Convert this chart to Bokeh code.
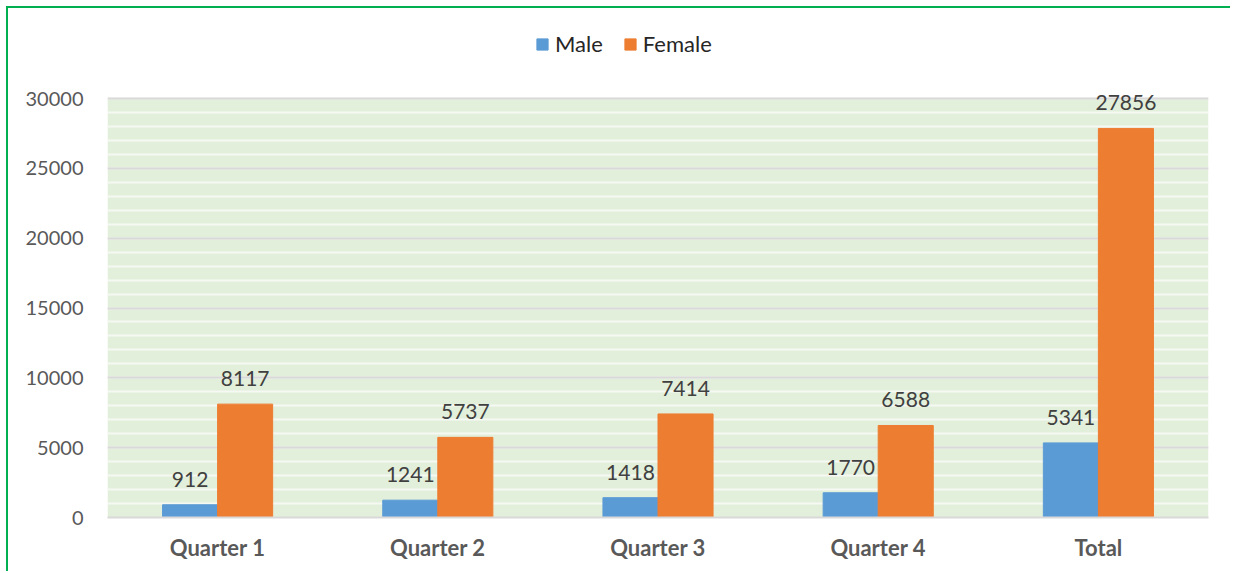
from bokeh.plotting import figure
from bokeh.models import (ColumnDataSource, FactorRange, Legend, LegendItem, FixedTicker,
                          Range1d, BoxAnnotation)
from bokeh.layouts import column
from bokeh.transform import dodge
from bokeh.core.properties import value
from bokeh.embed import file_html
from bokeh.resources import INLINE

categories = ["Quarter 1", "Quarter 2", "Quarter 3", "Quarter 4", "Total"]
male = [912, 1241, 1418, 1770, 5341]
female = [8117, 5737, 7414, 6588, 27856]
series_names = ["Male", "Female"]
colors = ["#5b9bd5", "#ed7d31"]
y_ticks = [0, 5000, 10000, 15000, 20000, 25000, 30000]
y_minor = list(range(0, 30001, 1000))
y_max = 30000

src = ColumnDataSource(dict(
    cat=categories, male=male, female=female,
    male_lbl=[str(v) for v in male], female_lbl=[str(v) for v in female],
))

FONT = "Lato"

# frame extends above the plot area to host the legend; plot area is the green box
p = figure(
    x_range=FactorRange(*categories), y_range=Range1d(0, 36444),
    width=1222, height=563, output_backend="svg", toolbar_location=None,
    min_border_left=99, min_border_right=22, min_border_top=0, min_border_bottom=54,
)
p.background_fill_color = "white"
p.border_fill_color = "white"
p.outline_line_color = None

p.add_layout(BoxAnnotation(bottom=0, top=y_max, fill_color="#e2efda", fill_alpha=1,
                           line_color=None, level="image"))

r_m = p.vbar(x=dodge("cat", -0.125, range=p.x_range), top="male", width=0.25,
             source=src, fill_color=colors[0], line_color=colors[0])
r_f = p.vbar(x=dodge("cat", 0.125, range=p.x_range), top="female", width=0.25,
             source=src, fill_color=colors[1], line_color=colors[1])

for col, off in (("male", -0.125), ("female", 0.125)):
    p.text(x=dodge("cat", off, range=p.x_range), y=col, text=col + "_lbl", source=src,
           text_align="center", text_baseline="bottom", y_offset=-18,
           text_font=value(FONT), text_font_size="21px", text_color="#404040")

# axes
p.yaxis.ticker = FixedTicker(ticks=y_ticks, minor_ticks=y_minor)
p.yaxis.axis_line_color = None
p.yaxis.major_tick_line_color = None
p.yaxis.minor_tick_line_color = None
p.yaxis.major_label_text_font = FONT
p.yaxis.major_label_text_font_size = "20px"
p.yaxis.major_label_text_color = "#595959"
p.yaxis.major_label_standoff = 18

p.xaxis.axis_line_color = "#d9d9d9"
p.xaxis.axis_line_width = 2
p.xaxis.major_tick_line_color = None
p.xaxis.minor_tick_line_color = None
p.xaxis.major_label_text_font = FONT
p.xaxis.major_label_text_font_size = "22px"
p.xaxis.major_label_text_font_style = "bold"
p.xaxis.major_label_text_color = "#595959"
p.xaxis.major_label_standoff = 10

p.xgrid.grid_line_color = None
p.ygrid.grid_line_color = "#d9d9d9"
p.ygrid.grid_line_width = 2
p.ygrid.minor_grid_line_color = "#f5f8f3"
p.ygrid.minor_grid_line_width = 2

legend = Legend(items=[LegendItem(label=series_names[0], renderers=[r_m]),
                       LegendItem(label=series_names[1], renderers=[r_f])],
                orientation="horizontal", location=(428, 460),
                label_text_font=FONT, label_text_font_size="22px", label_text_color="#262626",
                glyph_width=14, glyph_height=14, spacing=20, label_standoff=6,
                border_line_color=None, background_fill_alpha=0, margin=0, padding=4)
p.add_layout(legend)

layout = column(p, styles={"border-left": "2px solid #00b050",
                           "border-top": "2px solid #00b050",
                           "margin": "6px 0 0 6px"})
open("out.html", "w").write(file_html(layout, INLINE))
